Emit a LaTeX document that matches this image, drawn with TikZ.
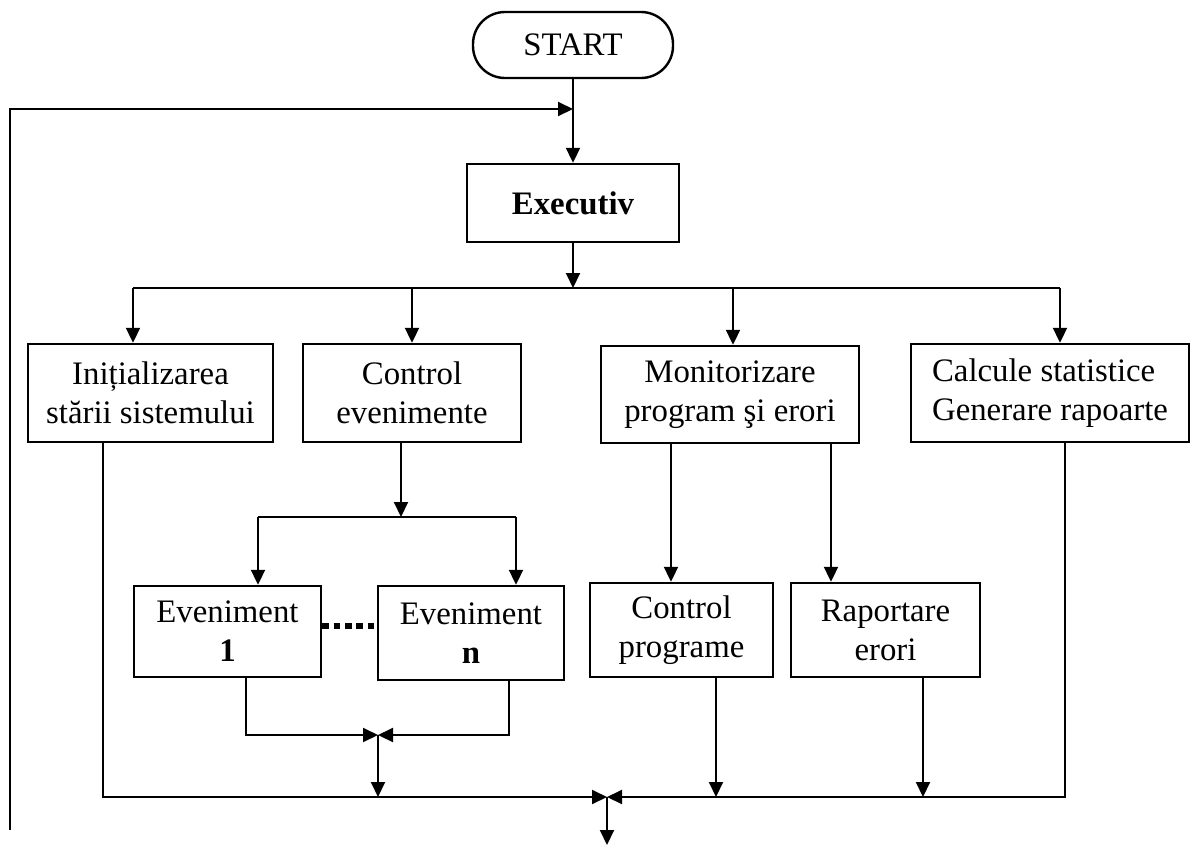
\documentclass[tikz,border=0pt]{standalone}
\usepackage{fontspec}
\setmainfont{Liberation Serif}
\usetikzlibrary{arrows.meta}

\tikzset{
  base/.style={font=\fontsize{16.4}{19.5}\selectfont, inner sep=0pt, align=center},
  box/.style={base, draw, line width=1.2pt},
  term/.style={box, rounded corners=16pt},
  line/.style={line width=1pt},
  arr/.style={line, -{Triangle[length=7.5pt,width=7pt]}},
  dots/.style={line width=2.6pt, dash pattern=on 3.3pt off 2.4pt}
}

\begin{document}
\begin{tikzpicture}[x=0.5pt,y=-0.5pt]
\useasboundingbox (0,0) rectangle (1191,847);

% blocks
\node[term, minimum width=100pt, minimum height=33pt] (start) at (573,45) {START};
\node[box, minimum width=106pt, minimum height=39pt] (exec) at (573,203) {\textbf{Executiv}};

\node[box, minimum width=122.5pt, minimum height=49pt] (b1) at (150.5,393) {Inițializarea\\stării sistemului};
\node[box, minimum width=109pt, minimum height=49pt] (b2) at (412,393) {Control\\evenimente};
\node[box, minimum width=129pt, minimum height=48.5pt] (b3) at (730,394.5) {Monitorizare\\program şi erori};
\node[box, minimum width=139pt, minimum height=49pt] (b4) at (1050,393) {\begin{tabular}{@{}l@{}}Calcule statistice\\Generare rapoarte\end{tabular}};

\node[box, minimum width=93.5pt, minimum height=45.5pt] (e1) at (227.5,631.5) {Eveniment\\\textbf{1}};
\node[box, minimum width=93pt, minimum height=47pt] (en) at (471,633) {Eveniment\\\textbf{n}};
\node[box, minimum width=91.5pt, minimum height=47pt] (cp) at (681.5,630) {Control\\programe};
\node[box, minimum width=94.5pt, minimum height=47pt] (re) at (885.5,630) {Raportare\\erori};

% junction points
\coordinate (fbBot) at (10,830);
\coordinate (fbTop) at (10,109);
\coordinate (split) at (573,288);
\coordinate (d1) at (133,288);
\coordinate (d2) at (412,288);
\coordinate (d3) at (733,288);
\coordinate (d4) at (1060,288);
\coordinate (sb) at (401,517);
\coordinate (sbL) at (258,517);
\coordinate (sbR) at (516,517);
\coordinate (dotY) at (0,626);
\coordinate (e1o) at (246,735);
\coordinate (eno) at (509,735);
\coordinate (mA) at (378,735);
\coordinate (busL) at (103,797);
\coordinate (mB) at (607,797);
\coordinate (x3a) at (671,443);
\coordinate (x3b) at (831,443);
\coordinate (cpo) at (716,797);
\coordinate (reo) at (923,797);
\coordinate (b4o) at (1065,797);
\coordinate (endp) at (607,845);

% feedback loop
\draw[arr] (fbBot) -- (fbTop) -- (start.south |- fbTop);

% main axis
\draw[arr] (start) -- (exec);
\draw[arr] (exec) -- (split);

% distribution to the four modules
\draw[line] (d1) -- (d4);
\draw[arr] (d1) -- (d1 |- b1.north);
\draw[arr] (d2) -- (d2 |- b2.north);
\draw[arr] (d3) -- (d3 |- b3.north);
\draw[arr] (d4) -- (d4 |- b4.north);

% event handling
\draw[arr] (b2.south -| sb) -- (sb);
\draw[line] (sbL) -- (sbR);
\draw[arr] (sbL) -- (sbL |- e1.north);
\draw[arr] (sbR) -- (sbR |- en.north);
\draw[dots] (e1.east |- dotY) -- (en.west |- dotY);
\draw[arr] (e1.south -| e1o) -- (e1o) -- (mA);
\draw[arr] (en.south -| eno) -- (eno) -- (mA);
\draw[arr] (mA) -- (mA |- mB);

% program and error monitoring
\draw[arr] (b3.south -| x3a) -- (x3a |- cp.north);
\draw[arr] (b3.south -| x3b) -- (x3b |- re.north);
\draw[arr] (cp.south -| cpo) -- (cpo);
\draw[arr] (re.south -| reo) -- (reo);

% return bus
\draw[arr] (b1.south -| busL) -- (busL) -- (mB);
\draw[arr] (b4.south -| b4o) -- (b4o) -- (mB);
\draw[arr] (mB) -- (endp);
\end{tikzpicture}
\end{document}
